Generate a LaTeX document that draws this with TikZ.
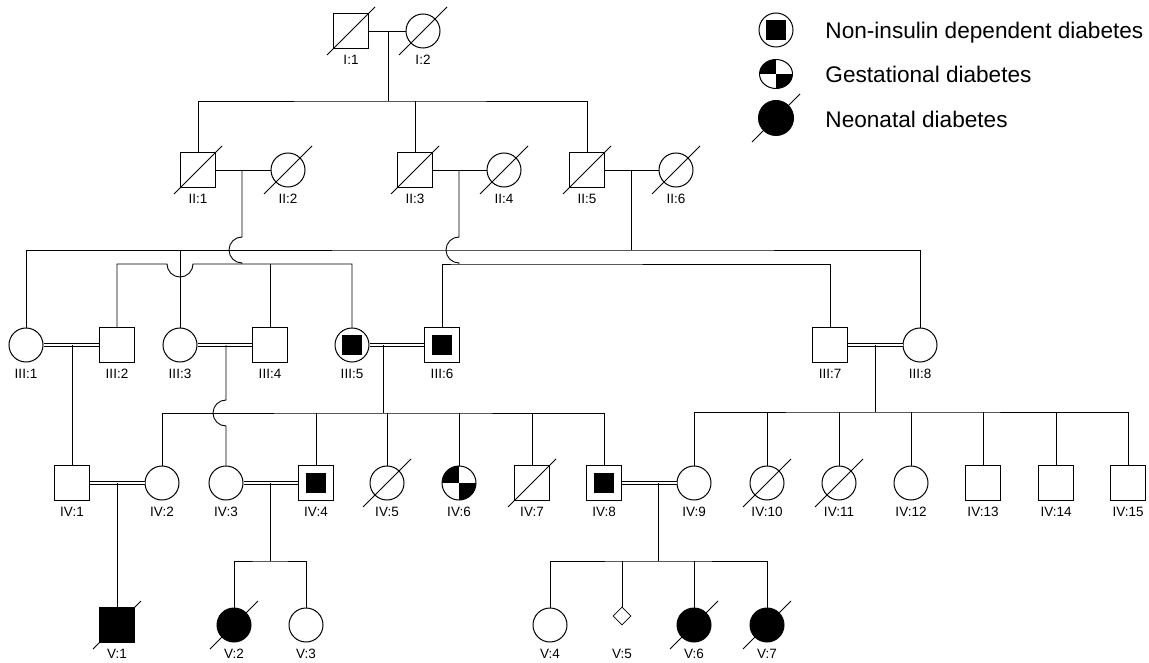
\documentclass[tikz,border=0pt]{standalone}
\usepackage{fontspec}
\setmainfont{Liberation Sans}
\usetikzlibrary{shapes.geometric}

\tikzset{
  male/.style={draw, rectangle, minimum size=35pt, inner sep=0pt, line width=1pt},
  female/.style={draw, circle, minimum size=34pt, inner sep=0pt, line width=1pt},
  unknown/.style={draw, diamond, minimum size=18pt, inner sep=0pt, line width=0.8pt},
  niddm/.style={path picture={\fill ([shift={(-#1,-#1)}]path picture bounding box.center) rectangle ([shift={(#1,#1)}]path picture bounding box.center);}},
  niddm/.default=10pt,
  gdm/.style={path picture={
      \fill (path picture bounding box.center) rectangle (path picture bounding box.north west);
      \fill (path picture bounding box.center) rectangle (path picture bounding box.south east);}},
  neo/.style={fill=black},
  lbl/.style={inner sep=0pt, font=\fontsize{13.5}{15}\selectfont},
  keytxt/.style={inner sep=0pt, anchor=west, font=\fontsize{22.6}{26}\selectfont},
  dbl/.style={double, double distance=1.8pt, line width=0.7pt},
}

% person: style, name, x, y, label
\newcommand{\pers}[5]{%
  \node[#1] (#2) at (#3,#4) {};
  \node[lbl] (#2-l) at (#3,#4+29) {#5};}
% deceased slash
\newcommand{\dec}[1]{\draw[line width=0.9pt] (#1.center) ++(-24,24) -- ++(48,-48);}

\begin{document}
\begin{tikzpicture}[x=1pt, y=-1pt, line width=0.9pt]
  \useasboundingbox (0,0) rectangle (1149,663);

  % generation I
  \pers{male}{i1}{351}{31}{I:1}
  \pers{female}{i2}{423}{31}{I:2}

  % generation II
  \pers{male}{ii1}{198}{170}{II:1}
  \pers{female}{ii2}{288}{170}{II:2}
  \pers{male}{ii3}{415}{170}{II:3}
  \pers{female}{ii4}{504}{170}{II:4}
  \pers{male}{ii5}{587}{170}{II:5}
  \pers{female}{ii6}{676}{170}{II:6}

  % generation III
  \pers{female}{iii1}{26}{345}{III:1}
  \pers{male}{iii2}{117}{345}{III:2}
  \pers{female}{iii3}{180}{345}{III:3}
  \pers{male}{iii4}{270}{345}{III:4}
  \pers{female,niddm}{iii5}{352}{345}{III:5}
  \pers{male,niddm}{iii6}{442}{345}{III:6}
  \pers{male}{iii7}{830}{345}{III:7}
  \pers{female}{iii8}{920}{345}{III:8}

  % generation IV
  \pers{male}{iv1}{72}{483}{IV:1}
  \pers{female}{iv2}{162}{483}{IV:2}
  \pers{female}{iv3}{226}{483}{IV:3}
  \pers{male,niddm}{iv4}{316}{483}{IV:4}
  \pers{female}{iv5}{387}{483}{IV:5}
  \pers{female,gdm}{iv6}{459}{483}{IV:6}
  \pers{male}{iv7}{532}{483}{IV:7}
  \pers{male,niddm}{iv8}{604}{483}{IV:8}
  \pers{female}{iv9}{694}{483}{IV:9}
  \pers{female}{iv10}{767}{483}{IV:10}
  \pers{female}{iv11}{839}{483}{IV:11}
  \pers{female}{iv12}{911}{483}{IV:12}
  \pers{male}{iv13}{983}{483}{IV:13}
  \pers{male}{iv14}{1056}{483}{IV:14}
  \pers{male}{iv15}{1128}{483}{IV:15}

  % generation V
  \pers{male,neo}{v1}{117}{625}{V:1}
  \pers{female,neo}{v2}{234}{625}{V:2}
  \pers{female}{v3}{306}{625}{V:3}
  \pers{female}{v4}{550}{625}{V:4}
  \node[unknown] (v5) at (622,616) {};
  \node[lbl] (v5-l) at (622,654) {V:5};
  \pers{female,neo}{v6}{694}{625}{V:6}
  \pers{female,neo}{v7}{767}{625}{V:7}

  % marriages and sibships
  \coordinate (m1) at (388,31);
  \coordinate (s1) at (388,101);
  \draw (i1) -- (i2);
  \draw (m1) -- (s1);
  \draw (ii1) |- (s1) -| (ii5);
  \draw (ii3) -- (ii3 |- s1);

  \coordinate (m2) at (242,170);
  \coordinate (m3) at (459,170);
  \coordinate (m4) at (631,170);
  \coordinate (s2) at (631,250);
  \coordinate (s3) at (242,264);
  \coordinate (s4) at (459,264);
  \draw (ii1) -- (ii2);
  \draw (ii3) -- (ii4);
  \draw (ii5) -- (ii6);
  \draw (m4) -- (s2);
  \draw (iii1) |- (s2) -| (iii8);
  \draw (iii3) -- (iii3 |- s2);
  \draw (m2) -- ([yshift=13pt]m2 |- s2) arc[start angle=270, end angle=90, radius=13] -- (s3);
  \draw (iii2) |- ([xshift=-13pt]iii3 |- s3) arc[start angle=180, end angle=0, radius=13] -| (iii5);
  \draw (iii4) -- (iii4 |- s3);
  \draw (m3) -- ([yshift=13pt]m3 |- s2) arc[start angle=270, end angle=90, radius=13] -- (s4);
  \draw (iii6) |- (s4) -| (iii7);

  \coordinate (m5) at (72,345);
  \coordinate (m6) at (226,345);
  \coordinate (m7) at (383,345);
  \coordinate (m8) at (875,345);
  \coordinate (s5) at (383,413);
  \coordinate (s6) at (875,412);
  \draw[dbl] (iii1) -- (iii2);
  \draw[dbl] (iii3) -- (iii4);
  \draw[dbl] (iii5) -- (iii6);
  \draw[dbl] (iii7) -- (iii8);
  \draw (m5) -- (iv1);
  \draw (m6) -- ([yshift=13pt]m6 |- s5) arc[start angle=270, end angle=90, radius=13] -- (iv3);
  \draw (m7) -- (s5);
  \draw (iv2) |- (s5) -| (iv8);
  \foreach \n in {iv4,iv5,iv6,iv7}
    \draw (\n) -- (\n |- s5);
  \draw (m8) -- (s6);
  \draw (iv9) |- (s6) -| (iv15);
  \foreach \n in {iv10,iv11,iv12,iv13,iv14}
    \draw (\n) -- (\n |- s6);

  \coordinate (m9) at (117,483);
  \coordinate (m10) at (270,483);
  \coordinate (m11) at (658,483);
  \coordinate (s7) at (270,561);
  \coordinate (s8) at (658,561);
  \draw[dbl] (iv1) -- (iv2);
  \draw[dbl] (iv3) -- (iv4);
  \draw[dbl] (iv8) -- (iv9);
  \draw (m9) -- (v1);
  \draw (m10) -- (s7);
  \draw (v2) |- (s7) -| (v3);
  \draw (m11) -- (s8);
  \draw (v4) |- (s8) -| (v7);
  \foreach \n in {v5,v6}
    \draw (\n) -- (\n |- s8);

  % deceased
  \foreach \n in {i1,i2,ii1,ii2,ii3,ii4,ii5,ii6,iv5,iv7,iv10,iv11,v1,v2,v6,v7}
    {\dec{\n}}

  % key
  \node[female, niddm] (k1) at (776,30) {};
  \node[draw, ellipse, minimum width=33pt, minimum height=29pt, inner sep=0pt, line width=1pt, gdm] (k2) at (776,74) {};
  \node[female, minimum size=35pt, neo] (k3) at (776,118) {};
  \dec{k3}
  \node[keytxt] (k1-t) at (825,33) {Non-insulin dependent diabetes};
  \node[keytxt] (k2-t) at (825,74) {Gestational diabetes};
  \node[keytxt] (k3-t) at (825,119) {Neonatal diabetes};
\end{tikzpicture}
\end{document}
